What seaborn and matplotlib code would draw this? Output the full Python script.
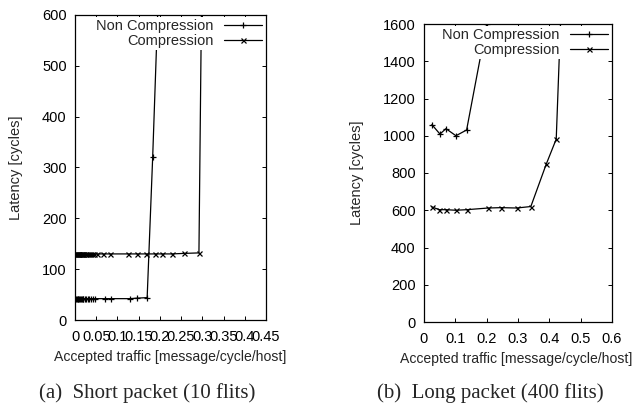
import numpy as np
import pandas as pd
import matplotlib
matplotlib.use("Agg")
import matplotlib.pyplot as plt
import seaborn as sns

# Short packet (10 flits)
short_x_nc = [0.001, 0.002, 0.004, 0.006, 0.008, 0.010, 0.012, 0.014, 0.016, 0.018, 0.020,
              0.023, 0.026, 0.030, 0.034, 0.038, 0.042, 0.047, 0.070, 0.084, 0.129, 0.146,
              0.170, 0.183, 0.205]
short_y_nc = [42, 42, 42, 42, 42, 42, 42, 42, 42, 42, 42,
              42, 42, 42, 42, 42, 42, 42, 42, 42, 42, 43,
              44, 320, 850]
short_x_c = [0.001, 0.002, 0.004, 0.006, 0.008, 0.010, 0.012, 0.014, 0.016, 0.018, 0.020,
             0.023, 0.026, 0.030, 0.035, 0.040, 0.045, 0.052, 0.065, 0.082, 0.124, 0.146,
             0.168, 0.188, 0.206, 0.228, 0.257, 0.292, 0.299]
short_y_c = [130, 130, 130, 130, 130, 130, 130, 130, 130, 130, 130,
             130, 130, 130, 130, 130, 130, 130, 130, 130, 130, 130,
             130, 130, 130, 130, 131, 132, 700]

# Long packet (400 flits)
long_x_nc = [0.025, 0.051, 0.070, 0.102, 0.136, 0.200]
long_y_nc = [1060, 1009, 1038, 1000, 1031, 1600]
long_x_c = [0.025, 0.049, 0.070, 0.102, 0.136, 0.205, 0.246, 0.296, 0.341, 0.390, 0.422, 0.440]
long_y_c = [618, 603, 603, 600, 603, 612, 614, 612, 620, 847, 982, 1800]

labels = ["Non Compression", "Compression"]

sns.set_style("ticks")
plt.rcParams['font.family'] = ['Liberation Sans', 'DejaVu Sans']
plt.rcParams['xtick.direction'] = 'in'
plt.rcParams['ytick.direction'] = 'in'
plt.rcParams['xtick.top'] = True
plt.rcParams['ytick.right'] = True

fig = plt.figure(figsize=(6.34, 4.05), dpi=100)
W, H = 634, 405
ax1 = fig.add_axes([75 / W, 1 - 320 / H, 191 / W, 305 / H])
ax2 = fig.add_axes([424 / W, 1 - 322 / H, 188 / W, 298 / H])

fs = 10.5


def draw(ax, x_nc, y_nc, x_c, y_c):
    df_nc = pd.DataFrame({'x': x_nc, 'y': y_nc})
    df_c = pd.DataFrame({'x': x_c, 'y': y_c})
    sns.lineplot(data=df_nc, x='x', y='y', ax=ax, color='black', lw=0.9, marker='+',
                 markersize=5, markeredgewidth=0.9, markeredgecolor='black',
                 sort=False, estimator=None, label=labels[0])
    sns.lineplot(data=df_c, x='x', y='y', ax=ax, color='black', lw=0.9, marker='x',
                 markersize=3.6, markeredgewidth=0.9, markeredgecolor='black',
                 sort=False, estimator=None, label=labels[1])
    for s in ax.spines.values():
        s.set_color('black')
        s.set_linewidth(0.9)
    ax.tick_params(length=3, width=0.7, labelsize=fs, colors='black')
    ax.tick_params(axis='x', pad=7.5)
    ax.tick_params(axis='y', pad=6)
    ax.set_xlabel("Accepted traffic [message/cycle/host]", fontsize=10.1)
    ax.set_ylabel("Latency [cycles]", fontsize=fs)
    # gnuplot-style key: text right-aligned, sample on the right
    leg = ax.legend(loc='upper right', fontsize=fs, markerfirst=False, frameon=True,
                    facecolor='white', edgecolor='none', framealpha=1, fancybox=False,
                    borderpad=0.15, borderaxespad=0.15, handlelength=2.55,
                    handletextpad=0.75, labelspacing=0.02)
    leg.set_zorder(5)


draw(ax1, short_x_nc, short_y_nc, short_x_c, short_y_c)
ax1.set_xlim(0, 0.45)
ax1.set_ylim(0, 600)
ax1.set_xticks(np.arange(0, 0.451, 0.05))
ax1.set_xticklabels(["0", "0.05", "0.1", "0.15", "0.2", "0.25", "0.3", "0.35", "0.4", "0.45"])
ax1.set_yticks(range(0, 601, 100))
ax1.yaxis.set_label_coords(-0.27, 0.5)
ax1.xaxis.set_label_coords(0.5, -0.1)

draw(ax2, long_x_nc, long_y_nc, long_x_c, long_y_c)
ax2.set_xlim(0, 0.6)
ax2.set_ylim(0, 1600)
ax2.set_xticks(np.arange(0, 0.61, 0.1))
ax2.set_xticklabels(["0", "0.1", "0.2", "0.3", "0.4", "0.5", "0.6"])
ax2.set_yticks(range(0, 1601, 200))
ax2.yaxis.set_label_coords(-0.317, 0.5)
ax2.xaxis.set_label_coords(0.49, -0.102)

fig.text(147 / W, 1 - 393 / H, "(a)  Short packet (10 flits)", ha='center', va='center',
         fontsize=15, family=['Liberation Serif', 'DejaVu Serif'])
fig.text(490 / W, 1 - 393 / H, "(b)  Long packet (400 flits)", ha='center', va='center',
         fontsize=15, family=['Liberation Serif', 'DejaVu Serif'])

fig.savefig("out.png", dpi=100)
